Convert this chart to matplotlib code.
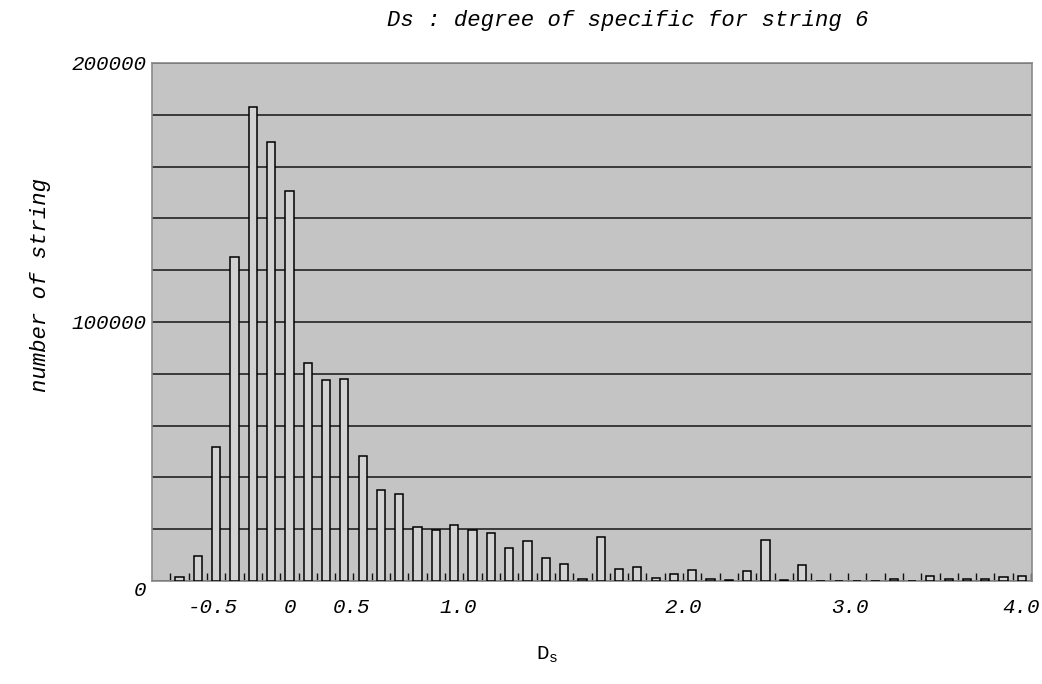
import numpy as np
from matplotlib import pyplot as plt

# Counts per bin (bin index 0..46)
counts = [1700, 9500, 51700, 125000, 183000, 169500, 150500, 84000, 77500, 78000,
          48300, 35000, 33500, 20700, 19800, 21500, 19700, 18400, 12900, 15600,
          8700, 6400, 800, 16900, 4500, 5300, 1000, 2600, 4300, 800,
          400, 3900, 15700, 400, 6000, 0, 0, 0, 0, 600,
          0, 2000, 700, 700, 700, 1700, 2000]

# Hand-placed axis labels (in bin-index units) as on the original
tick_pos = [1.83, 6.03, 9.42, 15.21, 27.49, 36.61, 45.95]
tick_text = ['-0.5', '0', '0.5', '1.0', '2.0', '3.0', '4.0']

y_ticks = list(range(0, 200001, 20000))
y_text = ['0' if v == 0 else ('100000' if v == 100000 else ('200000' if v == 200000 else ''))
          for v in y_ticks]

plt.rcParams['font.family'] = 'Liberation Mono'
plt.rcParams['mathtext.fontset'] = 'custom'
plt.rcParams['mathtext.rm'] = 'Liberation Mono'

fig = plt.figure(figsize=(10.42, 6.84), dpi=100)
ax = fig.add_axes([0.1459, 0.1506, 0.8445, 0.7573])
ax.set_facecolor('#c4c4c4')

x = np.arange(len(counts))
ax.bar(x, counts, width=0.45, color='#d2d2d2', edgecolor='black', linewidth=1.1, zorder=3)

# Format axes
ax.set_xlim(-1.5, 46.55)
ax.set_ylim(0, 200000)
ax.set_yticks(y_ticks)
ax.set_yticklabels(y_text, fontsize=15, style='italic')
ax.yaxis.grid(True, color='#222222', linewidth=1.2, zorder=1)
ax.tick_params(axis='y', length=0, pad=4)
for lab in ax.get_yticklabels():
	if lab.get_text() == '0':
		lab.set_va('top')

ax.set_xticks(tick_pos)
ax.set_xticklabels(tick_text, fontsize=15, style='italic')
ax.set_xticks(np.arange(-0.5, 46.6, 1.0), minor=True)
ax.tick_params(axis='x', which='major', length=0, pad=12)
ax.tick_params(axis='x', which='minor', direction='in', length=6, width=1.0, color='#111111')

for side in ['top', 'right', 'bottom', 'left']:
	ax.spines[side].set_color('#8a8a8a')
	ax.spines[side].set_linewidth(1.2)

ax.set_xlabel(r'D$_\mathrm{s}$', fontsize=15, va='center')
ax.xaxis.set_label_coords(0.449, -0.143)
ax.set_ylabel('number of string', fontsize=16, style='italic', va='center')
ax.yaxis.set_label_coords(-0.127, 0.571)
ax.text(0.541, 1.083, 'Ds : degree of specific for string 6', transform=ax.transAxes,
	ha='center', va='center', fontsize=16, style='italic')

fig.savefig('out.png', dpi=100)
